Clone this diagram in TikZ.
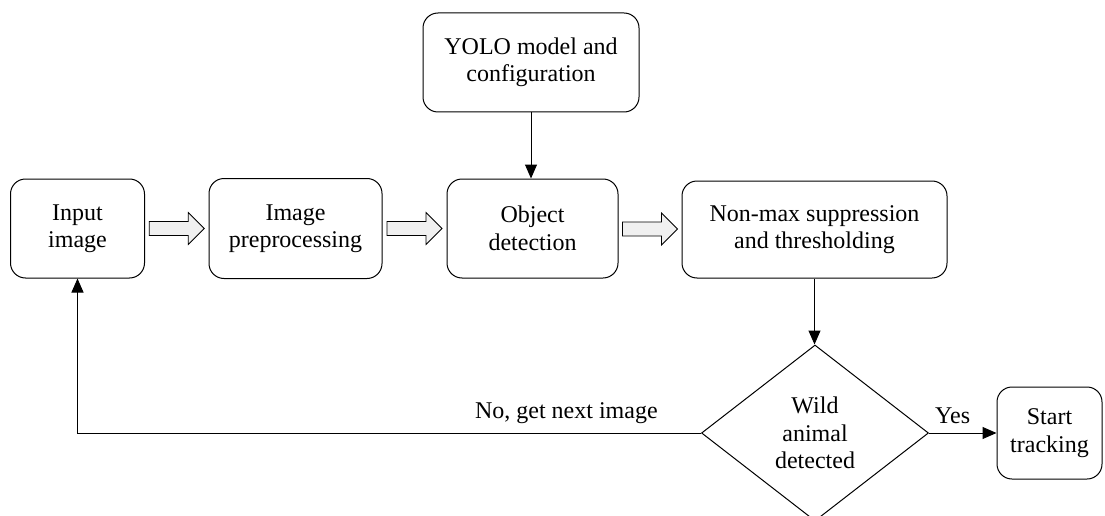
\documentclass[tikz,border=0pt]{standalone}
\usepackage{fontspec}
\setmainfont{Liberation Serif}
\usetikzlibrary{arrows.meta,shapes.geometric,calc}

\begin{document}
\begin{tikzpicture}[x=1pt,y=-1pt,
    every node/.style={font=\fontsize{24}{27.5}\selectfont},
    stage/.style={draw,line width=1pt,rounded corners=15pt,align=center,inner sep=0pt},
    decision/.style={draw,line width=1pt,diamond,align=center,inner sep=0pt},
    fatarrow/.pic={
      \draw[line width=0.8pt,fill=gray!12] (-27.5,-7) -- (11.5,-7) -- (11.5,-16) -- (27.5,0)
        -- (11.5,16) -- (11.5,7) -- (-27.5,7) -- cycle;},
    link/.style={line width=1pt,-{Triangle[width=12pt,length=14pt]}}]
    \clip (0,0) rectangle (1105,516);

    \node[stage,minimum width=134pt,minimum height=99pt] (input) at (77.5,228.5) {Input\\image};
    \node[stage,minimum width=173pt,minimum height=100pt] (prep) at (295.5,228.5) {Image\\preprocessing};
    \node[stage,minimum width=171pt,minimum height=99pt] (detect) at (532.5,228.5) {Object\\detection};
    \node[stage,minimum width=265pt,minimum height=97pt] (nms) at (814.5,229.5) {Non-max suppression\\and thresholding};
    \node[stage,minimum width=216pt,minimum height=99pt] (yolo) at (531,62.5) {YOLO model and\\configuration};
    \node[decision,minimum width=227pt,minimum height=176pt,aspect=1.29] (wild) at (815,433) {Wild\\animal\\detected};
    \node[stage,minimum width=105pt,minimum height=92pt] (track) at (1049.5,433) {Start\\tracking};

    % hollow arrows along the pipeline
    \pic at ($(input.east)!0.5!(prep.west)$) {fatarrow};
    \pic at ($(prep.east)!0.5!(detect.west)$) {fatarrow};
    \pic at ($(detect.east)!0.5!(nms.west)$) {fatarrow};

    \draw[link] (yolo.south) -- (yolo.south |- detect.north);
    \draw[link] (nms.south) -- (nms.south |- wild.north);
    \draw[link] (wild.east) -- node[above=5pt,pos=0.35] {Yes} (track.west);
    \coordinate (back) at (input.south |- wild.west);
    \draw[link] (wild.west) -- node[above=5pt,pos=0.216] {No, get next image} (back) -- (input.south);
\end{tikzpicture}
\end{document}
